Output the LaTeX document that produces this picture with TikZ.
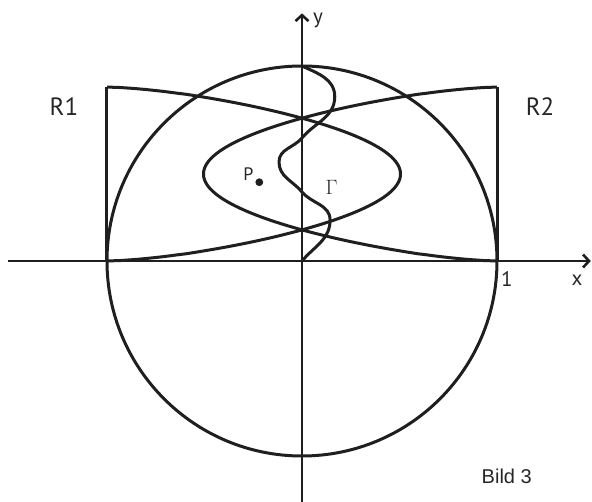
\documentclass[tikz,border=0pt]{standalone}
\usepackage{fontspec}
\setmainfont{PT Sans}
\newfontfamily\bildfont{Liberation Sans}
\usetikzlibrary{arrows.meta}
\begin{document}
\begin{tikzpicture}[x=195pt,y=195pt,
  curve/.style={line width=3pt,line join=round,color=black!88},
  axis/.style={line width=2.8pt,color=black!88},
  tip/.style={-{Straight Barb[length=6pt,width=13pt,line width=2.6pt]}},
  bigl/.style={font=\fontsize{25}{30}\selectfont,text=black!85},
  axl/.style={font=\fontsize{21}{25}\selectfont,text=black!85},
  smalll/.style={font=\fontsize{18}{21}\selectfont,text=black!85}]
\useasboundingbox (-1.54872,-1.23590) rectangle (1.48718,1.33846);
% axes
\coordinate (O) at (0,0);
\coordinate (xs) at (-1.508,0);
\coordinate (xe) at (1.481,0);
\coordinate (ys) at (0,-1.236);
\coordinate (ye) at (0,1.270);
\draw[axis,tip] (xs) -- (xe);
\draw[axis,tip] (ys) -- (ye);
% circle
\draw[curve] (O) circle (1);
% R1 / R2 corners
\coordinate (a1) at (-1,0);
\coordinate (a2) at (-1,0.892);
\coordinate (b1) at (1,0);
\coordinate (b2) at (1,0.892);
\draw[curve] (a1) -- (a2);
\draw[curve] (b1) -- (b2);
% curve from R1 corners bulging right
\draw[curve] (a1) -- plot[domain=0.5:179.5,samples=180,variable=\t]
  ({-1+1.505*(sin(\t))^0.65},{0.892*\t/180}) -- (a2);
% curve from R2 corners bulging left
\draw[curve] (b1) -- plot[domain=0.5:179.5,samples=180,variable=\t]
  ({1-1.505*(sin(\t))^0.65},{0.892*\t/180}) -- (b2);
% Gamma curve
\coordinate (g0) at (0,0);
\coordinate (g1) at (0.144,0.210);
\coordinate (g2) at (0,0.354);
\coordinate (g3) at (-0.118,0.508);
\coordinate (g4) at (0,0.631);
\coordinate (g5) at (0.168,0.843);
\coordinate (g6) at (0,1);
\draw[curve] (g0) to[out=50,in=-90] (g1) to[out=90,in=-50] (g2)
  to[out=130,in=-90] (g3) to[out=90,in=-130] (g4)
  to[out=50,in=-90] (g5) to[out=90,in=-25] (g6);
% point P
\fill[black!88] (-0.219,0.404) circle (0.02);
% labels
\node[smalll] (P) at (-0.275,0.447) {P};
\node[font=\fontsize{20}{24}\selectfont,text=black!85] (G) at (0.152,0.379) {$\Gamma$};
\node[bigl] (R1) at (-1.221,0.790) {R1};
\node[bigl] (R2) at (1.221,0.790) {R2};
\node[axl] (ylab) at (0.082,1.233) {y};
\node[axl] (xlab) at (1.410,-0.100) {x};
\node[axl] (one) at (1.051,-0.092) {1};
\node[font=\bildfont\fontsize{20}{24}\selectfont,text=black!85] (bild) at (1.050,-1.106) {Bild 3};
\end{tikzpicture}
\end{document}
